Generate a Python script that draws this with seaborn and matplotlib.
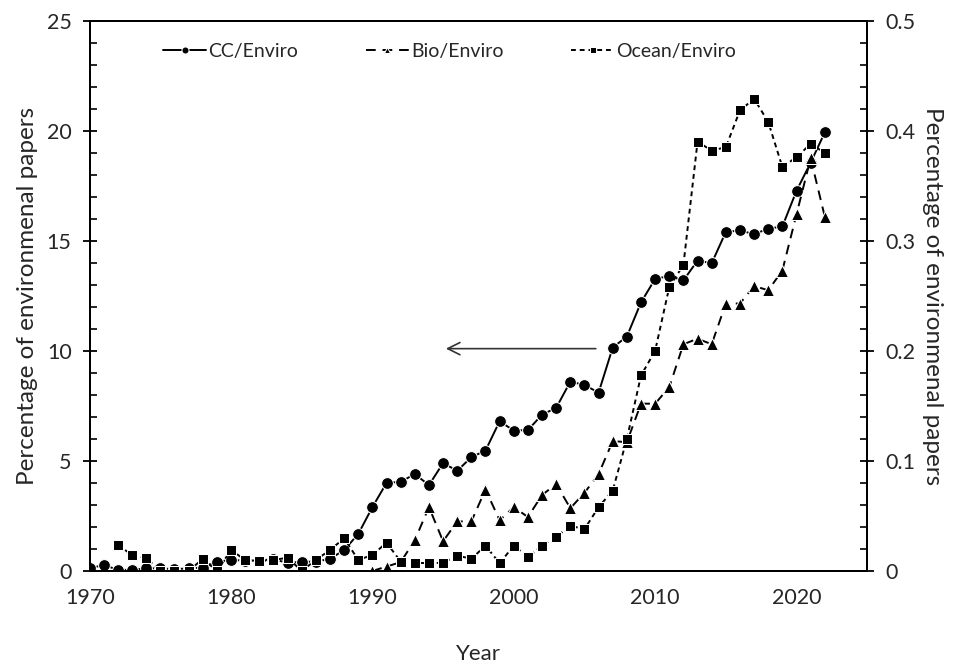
import numpy as np
import pandas as pd
import seaborn as sns
import matplotlib.pyplot as plt
from matplotlib.ticker import MultipleLocator

# values
cc_years = list(range(1970, 2023))
cc_vals = [0.12, 0.27, 0.05, 0.05, 0.12, 0.12, 0.08, 0.12, 0.15, 0.42,
           0.5, 0.47, 0.47, 0.54, 0.36, 0.42, 0.42, 0.55, 0.95, 1.68,
           2.9, 4.0, 4.05, 4.4, 3.9, 4.9, 4.55, 5.17, 5.47, 6.8,
           6.38, 6.4, 7.1, 7.41, 8.6, 8.45, 8.1, 10.15, 10.65, 12.2,
           13.27, 13.4, 13.2, 14.1, 13.98, 15.4, 15.47, 15.3, 15.55, 15.65,
           17.27, 18.55, 19.92]

bio_years = list(range(1990, 2023))
bio_vals = [0.0, 0.004, 0.008, 0.028, 0.058, 0.027, 0.045, 0.045, 0.074, 0.046,
            0.058, 0.049, 0.069, 0.079, 0.057, 0.071, 0.088, 0.118, 0.117, 0.152,
            0.152, 0.167, 0.206, 0.211, 0.206, 0.243, 0.243, 0.259, 0.255, 0.273,
            0.324, 0.375, 0.322]

ocean_years = list(range(1972, 2023))
ocean_vals = [0.0236, 0.0145, 0.0115, 0.0, 0.0, 0.0, 0.011, 0.0, 0.019, 0.01,
              0.009, 0.01, 0.012, 0.0, 0.01, 0.019, 0.0297, 0.01, 0.0145, 0.0257,
              0.0085, 0.0075, 0.007, 0.0075, 0.014, 0.011, 0.023, 0.007, 0.023, 0.0125,
              0.023, 0.031, 0.041, 0.038, 0.058, 0.073, 0.12, 0.1776, 0.2, 0.258,
              0.278, 0.39, 0.382, 0.385, 0.4185, 0.429, 0.408, 0.367, 0.376, 0.388,
              0.38]

sns.set_style("white")
plt.rcParams['font.family'] = ['Lato', 'DejaVu Sans']
plt.rcParams['font.size'] = 13.5

fig = plt.figure(figsize=(9.54, 6.67), dpi=100)
ax = fig.add_axes([0.094, 0.144, 0.815, 0.825])
ax2 = ax.twinx()

sns.lineplot(x=cc_years, y=cc_vals, ax=ax, color='black', marker='o',
             markersize=8.5, linewidth=1.4, label='CC/Enviro')
sns.lineplot(x=bio_years, y=bio_vals, ax=ax2, color='black', marker='^',
             markersize=8, linewidth=1.4, linestyle=(0, (5, 3.5)),
             label='Bio/Enviro')
sns.lineplot(x=ocean_years, y=ocean_vals, ax=ax2, color='black', marker='s',
             markersize=6.5, linewidth=1.4, linestyle=(0, (2.5, 2)),
             label='Ocean/Enviro')

ax.set_xlim(1970, 2025)
ax.set_ylim(0, 25)
ax2.set_ylim(0, 0.5)

ax.xaxis.set_major_locator(MultipleLocator(10))
ax.xaxis.set_minor_locator(MultipleLocator(2))
ax.yaxis.set_major_locator(MultipleLocator(5))
ax.yaxis.set_minor_locator(MultipleLocator(1))
ax2.yaxis.set_major_locator(MultipleLocator(0.1))
ax2.yaxis.set_minor_locator(MultipleLocator(0.02))
ax2.yaxis.set_major_formatter(plt.FuncFormatter(lambda v, p: '0' if v == 0 else f'{v:.1f}'))

for a in (ax, ax2):
    a.tick_params(which='major', direction='inout', length=10, width=1.3, color='black', labelsize=15.5)
    a.tick_params(which='minor', direction='in', length=5, width=1.2, color='black')
    for s in a.spines.values():
        s.set_color('black')
        s.set_linewidth(1.4)
ax.tick_params(which='both', top=False, right=False)
ax.tick_params(axis='x', which='major', pad=7)
ax.tick_params(axis='y', which='major', pad=8)
ax2.tick_params(axis='y', which='major', pad=8)

ax.set_xlabel('Year', fontsize=16, labelpad=26)
ax.set_ylabel('Percentage of environmenal papers', fontsize=17.5, labelpad=6)
ax2.set_ylabel('Percentage of environmenal papers', fontsize=17.5, rotation=270, labelpad=20)

# arrow pointing to the left axis
ax.annotate('', xy=(1995.0, 10.1), xytext=(2006.0, 10.1),
            arrowprops=dict(arrowstyle='->', color='#333333', lw=1.2,
                            mutation_scale=22))

h1, l1 = ax.get_legend_handles_labels()
h2, l2 = ax2.get_legend_handles_labels()
ax.get_legend().remove()
ax2.get_legend().remove()
ax.legend(h1 + h2, l1 + l2, loc='center', bbox_to_anchor=(0.463, 0.944), ncol=3,
          frameon=False, markerscale=0.6, handlelength=2.2, columnspacing=3.5,
          handletextpad=0.1, fontsize=14)

fig.savefig('out.png', dpi=100)
